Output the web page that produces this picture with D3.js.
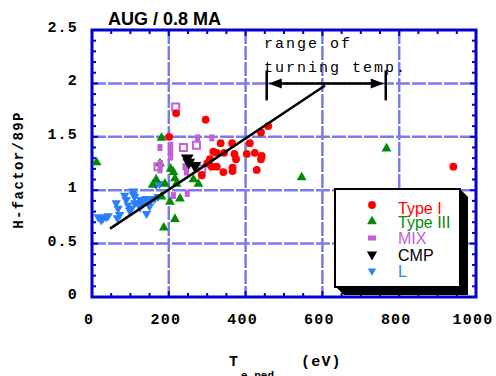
<!DOCTYPE html>
<html>
<head>
<meta charset="utf-8">
<script src="https://cdn.jsdelivr.net/npm/d3@7/dist/d3.min.js"></script>
<style>
    body { margin: 0; background: #fff; }
    svg { display: block; }
</style>
</head>
<body>
<svg id="chart" width="496" height="376"></svg>
<script>
// data: [T_e,ped (eV), H-factor/89P]
const typeI = [
    [296, 1.66], [459, 1.60], [440, 1.54], [201, 1.50], [219, 1.72],
    [335, 1.44], [365, 1.44], [411, 1.44], [316, 1.36], [325, 1.35],
    [344, 1.35], [371, 1.34], [403, 1.34], [424, 1.35], [442, 1.32],
    [440, 1.29], [375, 1.29], [307, 1.29], [312, 1.22], [325, 1.22],
    [342, 1.17], [366, 1.21], [366, 1.18], [429, 1.19], [286, 1.14],
    [300, 1.25], [941, 1.22]
];
const typeIII = [
    [12, 1.26], [181, 1.49], [177, 1.25], [212, 1.17], [216, 1.11],
    [167, 1.10], [158, 1.05], [190, 1.06], [181, 0.94], [203, 0.89],
    [229, 0.92], [216, 0.73], [187, 0.65], [264, 1.10], [277, 1.06],
    [220, 1.06], [205, 1.20], [546, 1.12], [767, 1.39]
];
const mixOpen = [
    [218, 1.78], [238, 1.40], [272, 1.42], [172, 1.22], [286, 1.20]
];
const mixFilled = [
    [275, 1.49], [312, 1.49], [177, 1.40], [205, 1.42], [205, 1.36],
    [205, 1.31], [178, 1.25], [246, 1.17], [242, 1.22], [212, 0.95],
    [248, 0.97], [177, 1.19]
];
const cmp = [[248, 1.30], [252, 1.26], [268, 1.23]];
const typeL = [
    [16, 0.75], [24, 0.72], [29, 0.74], [37, 0.75], [42, 0.76],
    [63, 0.88], [68, 0.83], [72, 0.77], [66, 0.74], [85, 0.95],
    [89, 0.91], [94, 0.86], [98, 0.81], [107, 0.99], [111, 0.94],
    [111, 0.88], [120, 0.88], [127, 0.91], [133, 0.88], [141, 0.92],
    [146, 0.88], [150, 0.85], [154, 0.91], [163, 0.92], [172, 0.94],
    [167, 1.05], [176, 1.06], [142, 0.78], [108, 0.96], [125, 0.84],
    [103, 0.83]
];
const fitLine = [[47, 0.64], [607, 1.98]];
const turningRange = [455, 765];
const turningLevel = 2.0;

const xTicks = [0, 200, 400, 600, 800, 1000];
const yTicks = [0, 0.5, 1, 1.5, 2, 2.5];
const legendNames = ['Type I', 'Type III', 'MIX', 'CMP', 'L'];

const colors = {
    red: '#ff0000',
    green: '#058a05',
    violet: '#c35fd8',
    black: '#000000',
    blue: '#2a7fff',
    frame: '#0000d0',
    grid: '#7b7bee'
};

const margin = { top: 30, right: 20, bottom: 79, left: 92 };
const width = 496, height = 376;
const svg = d3.select('#chart');

const x = d3.scaleLinear().domain([0, 1000]).range([margin.left, width - margin.right]);
const y = d3.scaleLinear().domain([0, 2.5]).range([height - margin.bottom, margin.top]);

const monoFont = '"Liberation Mono", "Courier New", monospace';
const sansFont = '"Liberation Sans", Arial, sans-serif';

// grid
svg.append('g')
    .selectAll('line')
    .data(xTicks.slice(1, -1))
    .join('line')
    .attr('x1', d => x(d)).attr('x2', d => x(d))
    .attr('y1', y(2.5)).attr('y2', y(0))
    .attr('stroke', colors.grid)
    .attr('stroke-width', 2.5)
    .attr('stroke-dasharray', '14,2');
svg.append('g')
    .selectAll('line')
    .data(yTicks.slice(1, -1))
    .join('line')
    .attr('x1', x(0)).attr('x2', x(1000))
    .attr('y1', d => y(d)).attr('y2', d => y(d))
    .attr('stroke', colors.grid)
    .attr('stroke-width', 2.5)
    .attr('stroke-dasharray', '14,2');

// frame ticks, all four sides
const xMinor = d3.range(0, 1001, 50);
const yMinor = d3.range(0, 26).map(i => i / 10);
const tickG = svg.append('g').attr('stroke', colors.frame).attr('stroke-width', 2);
tickG.selectAll('.xb')
    .data(xMinor)
    .join('line')
    .attr('x1', d => x(d)).attr('x2', d => x(d))
    .attr('y1', y(0)).attr('y2', d => y(0) - (d % 200 === 0 ? 6 : 4));
tickG.selectAll('.xt')
    .data(xMinor)
    .join('line')
    .attr('x1', d => x(d)).attr('x2', d => x(d))
    .attr('y1', y(2.5)).attr('y2', d => y(2.5) + (d % 200 === 0 ? 6 : 4));
tickG.selectAll('.yl')
    .data(yMinor)
    .join('line')
    .attr('y1', d => y(d)).attr('y2', d => y(d))
    .attr('x1', x(0)).attr('x2', (d, i) => x(0) + (i % 5 === 0 ? 6 : 4));
tickG.selectAll('.yr')
    .data(yMinor)
    .join('line')
    .attr('y1', d => y(d)).attr('y2', d => y(d))
    .attr('x1', x(1000)).attr('x2', (d, i) => x(1000) - (i % 5 === 0 ? 6 : 4));

svg.append('rect')
    .attr('x', x(0)).attr('y', y(2.5))
    .attr('width', x(1000) - x(0)).attr('height', y(0) - y(2.5))
    .attr('fill', 'none')
    .attr('stroke', colors.frame)
    .attr('stroke-width', 3);

// tick labels
svg.append('g')
    .selectAll('text')
    .data(xTicks)
    .join('text')
    .attr('x', d => x(d) - 3)
    .attr('y', 324)
    .attr('text-anchor', 'middle')
    .attr('font-family', monoFont)
    .attr('font-weight', 'bold')
    .attr('font-size', 15)
    .attr('letter-spacing', 1.2)
    .text(d => d);
svg.append('g')
    .selectAll('text')
    .data(yTicks)
    .join('text')
    .attr('x', 78)
    .attr('y', d => y(d) - 2)
    .attr('text-anchor', 'end')
    .attr('dominant-baseline', 'middle')
    .attr('font-family', monoFont)
    .attr('font-weight', 'bold')
    .attr('font-size', 15)
    .attr('letter-spacing', 1.2)
    .text(d => d);

// axis titles
svg.append('text')
    .attr('transform', 'translate(23,170) rotate(-90)')
    .attr('text-anchor', 'middle')
    .attr('font-family', monoFont)
    .attr('font-weight', 'bold')
    .attr('font-size', 14)
    .attr('letter-spacing', 1.4)
    .text('H-factor/89P');
const xt = svg.append('text')
    .attr('font-family', monoFont)
    .attr('font-weight', 'bold')
    .attr('font-size', 15);
xt.append('tspan').attr('x', 229).attr('y', 366).text('T');
xt.append('tspan').attr('x', 241).attr('y', 379).attr('font-size', 11).text('e,ped');
xt.append('tspan').attr('x', 301).attr('y', 366).attr('letter-spacing', 1.2).text('(eV)');

svg.append('text')
    .attr('x', 108).attr('y', 25)
    .attr('font-family', sansFont)
    .attr('font-weight', 'bold')
    .attr('font-size', 18)
    .text('AUG / 0.8 MA');

// scatter
const sym = (type, size) => d3.symbol().type(type).size(size)();
const triDown = {
    draw(ctx, size) {
        const s = Math.sqrt(size * 4 / Math.sqrt(3));
        const h = s * Math.sqrt(3) / 2;
        ctx.moveTo(-s / 2, -h / 3);
        ctx.lineTo(s / 2, -h / 3);
        ctx.lineTo(0, 2 * h / 3);
        ctx.closePath();
    }
};

function plotSymbols(data, path, attrs) {
    const g = svg.append('g');
    const p = g.selectAll('path')
        .data(data)
        .join('path')
        .attr('transform', d => `translate(${x(d[0])},${y(d[1])})`)
        .attr('d', path);
    for (const k in attrs) p.attr(k, attrs[k]);
}

plotSymbols(typeL, sym(triDown, 38), { fill: colors.blue });
plotSymbols(typeIII, sym(d3.symbolTriangle, 42), { fill: colors.green });
plotSymbols(mixFilled, 'M-2.5,-3.5h5v7h-5z', { fill: colors.violet });
plotSymbols(mixOpen, 'M-3.5,-3.5h7v7h-7z', { fill: 'none', stroke: colors.violet, 'stroke-width': 2 });
plotSymbols(typeI, sym(d3.symbolCircle, 48), { fill: colors.red });
plotSymbols(cmp, sym(triDown, 70), { fill: colors.black });

// fit line
svg.append('path')
    .datum(fitLine)
    .attr('d', d3.line().x(d => x(d[0])).y(d => y(d[1])))
    .attr('stroke', '#000')
    .attr('stroke-width', 2.5)
    .attr('fill', 'none');

// range of turning temperature
const ann = svg.append('g');
const ay = y(turningLevel);
ann.selectAll('line.bar')
    .data(turningRange)
    .join('line')
    .attr('x1', d => x(d)).attr('x2', d => x(d))
    .attr('y1', ay - 13).attr('y2', ay + 17)
    .attr('stroke', '#000')
    .attr('stroke-width', 2.5);
ann.append('line')
    .attr('x1', x(turningRange[0]) + 10).attr('x2', x(turningRange[1]) - 10)
    .attr('y1', ay).attr('y2', ay)
    .attr('stroke', '#000')
    .attr('stroke-width', 2.5);
ann.selectAll('path')
    .data([[turningRange[0], 1], [turningRange[1], -1]])
    .join('path')
    .attr('d', d => {
        const x0 = x(d[0]) + d[1] * 2;
        return `M${x0},${ay}L${x0 + d[1] * 13},${ay - 5}L${x0 + d[1] * 13},${ay + 5}Z`;
    })
    .attr('fill', '#000');
ann.selectAll('text')
    .data(['range of', 'turning temp.'])
    .join('text')
    .attr('x', 264)
    .attr('y', (d, i) => 48 + i * 24)
    .attr('font-family', monoFont)
    .attr('font-size', 15)
    .attr('letter-spacing', 2)
    .text(d => d);

// legend
const lg = { x: 335, y: 189, w: 125, h: 98 };
svg.append('path')
    .attr('d', `M${lg.x + lg.w},${lg.y}l8,8v${lg.h}h-${lg.w - 1}l-8,-8z`)
    .attr('fill', '#000');
svg.append('rect')
    .attr('x', lg.x).attr('y', lg.y)
    .attr('width', lg.w).attr('height', lg.h)
    .attr('fill', '#fff')
    .attr('stroke', '#000')
    .attr('stroke-width', 2);
const legendColors = [colors.red, colors.green, colors.violet, colors.black, colors.blue];
const legendSyms = [
    sym(d3.symbolCircle, 48),
    sym(d3.symbolTriangle, 42),
    'M-4,-2.5h8v5h-8z',
    sym(triDown, 45),
    sym(triDown, 30)
];
const lgRows = svg.append('g')
    .selectAll('g')
    .data(legendNames)
    .join('g')
    .attr('transform', (d, i) => `translate(0,${205 + i * 16.5})`);
lgRows.append('path')
    .attr('transform', 'translate(372,0)')
    .attr('d', (d, i) => legendSyms[i])
    .attr('fill', (d, i) => legendColors[i]);
lgRows.append('text')
    .attr('x', 398)
    .attr('y', (d, i) => i === 0 ? 9 : 6)
    .attr('font-family', sansFont)
    .attr('font-size', 16)
    .attr('fill', (d, i) => legendColors[i])
    .text(d => d);
</script>
</body>
</html>
